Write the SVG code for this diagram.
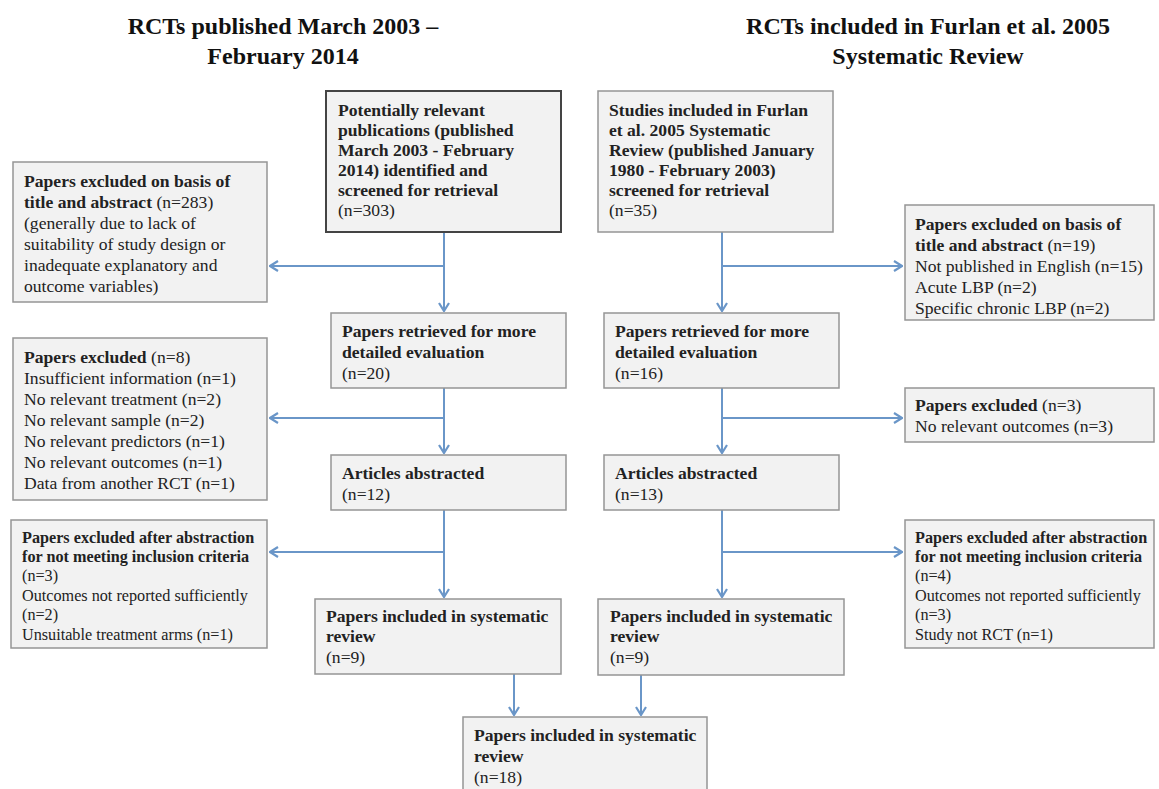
<svg xmlns="http://www.w3.org/2000/svg" width="1159" height="789" viewBox="0 0 1159 789">
<defs>
<marker id="arr" viewBox="0 0 10 12" refX="9" refY="6" markerWidth="10" markerHeight="12" markerUnits="userSpaceOnUse" orient="auto">
<path d="M1,1 L9,6 L1,11" fill="none" stroke="#6a96c8" stroke-width="2.2"/>
</marker>
<style>
.box{fill:#f2f2f2;stroke:#959595;stroke-width:1.5}
.dark{stroke:#444;stroke-width:2}
.t{font-family:"Liberation Serif","Times New Roman",serif;font-size:17.6px;fill:#222}
.s{font-size:16.2px}
.b{font-weight:bold}
.h{font-family:"Liberation Serif","Times New Roman",serif;font-size:24px;font-weight:bold;fill:#111;text-anchor:middle}
.c{fill:none;stroke:#6a96c8;stroke-width:2}
</style>
</defs>
<rect width="1159" height="789" fill="#fff"/>
<g id="titles">
<text class="h" x="283" y="34">RCTs published March 2003 –</text>
<text class="h" x="283" y="64">February 2014</text>
<text class="h" x="928" y="34">RCTs included in Furlan et al. 2005</text>
<text class="h" x="928" y="64">Systematic Review</text>
</g>
<g id="connectors">
<path class="c" d="M444,232 V311" marker-end="url(#arr)"/>
<path class="c" d="M444,266 H270" marker-end="url(#arr)"/>
<path class="c" d="M444,388 V453" marker-end="url(#arr)"/>
<path class="c" d="M444,418 H270" marker-end="url(#arr)"/>
<path class="c" d="M444,510 V597" marker-end="url(#arr)"/>
<path class="c" d="M444,552 H270" marker-end="url(#arr)"/>
<path class="c" d="M722,232 V311" marker-end="url(#arr)"/>
<path class="c" d="M722,266 H902" marker-end="url(#arr)"/>
<path class="c" d="M722,388 V453" marker-end="url(#arr)"/>
<path class="c" d="M722,418 H902" marker-end="url(#arr)"/>
<path class="c" d="M722,510 V597" marker-end="url(#arr)"/>
<path class="c" d="M722,552 H902" marker-end="url(#arr)"/>
<path class="c" d="M514,674 V715" marker-end="url(#arr)"/>
<path class="c" d="M641,675 V715" marker-end="url(#arr)"/>
</g>
<g id="n_left1">
<rect class="box dark" x="326" y="91" width="235" height="141"/>
<text class="t b" x="338" y="116">Potentially relevant</text>
<text class="t b" x="338" y="136">publications (published</text>
<text class="t b" x="338" y="156">March 2003 - February</text>
<text class="t b" x="338" y="176">2014) identified and</text>
<text class="t b" x="338" y="196">screened for retrieval</text>
<text class="t" x="338" y="216">(n=303)</text>
</g>
<g id="n_right1">
<rect class="box" x="598" y="91" width="235" height="141"/>
<text class="t b" x="609" y="116">Studies included in Furlan</text>
<text class="t b" x="609" y="136">et al. 2005 Systematic</text>
<text class="t b" x="609" y="156">Review (published January</text>
<text class="t b" x="609" y="176">1980 - February 2003)</text>
<text class="t b" x="609" y="196">screened for retrieval</text>
<text class="t" x="609" y="216">(n=35)</text>
</g>
<g id="n_exclL1">
<rect class="box" x="13" y="162" width="254" height="140"/>
<text class="t b" x="24" y="187">Papers excluded on basis of</text>
<text class="t" x="24" y="208"><tspan class="b">title and abstract</tspan> (n=283)</text>
<text class="t" x="24" y="229">(generally due to lack of</text>
<text class="t" x="24" y="250">suitability of study design or</text>
<text class="t" x="24" y="271">inadequate explanatory and</text>
<text class="t" x="24" y="292">outcome variables)</text>
</g>
<g id="n_exclR1">
<rect class="box" x="905" y="205" width="249" height="115"/>
<text class="t b" x="915" y="230">Papers excluded on basis of</text>
<text class="t" x="915" y="251"><tspan class="b">title and abstract</tspan> (n=19)</text>
<text class="t" x="915" y="272">Not published in English (n=15)</text>
<text class="t" x="915" y="293">Acute LBP (n=2)</text>
<text class="t" x="915" y="314">Specific chronic LBP (n=2)</text>
</g>
<g id="n_left2">
<rect class="box" x="331" y="313" width="235" height="75"/>
<text class="t b" x="342" y="337">Papers retrieved for more</text>
<text class="t b" x="342" y="358">detailed evaluation</text>
<text class="t" x="342" y="379">(n=20)</text>
</g>
<g id="n_right2">
<rect class="box" x="604" y="313" width="235" height="75"/>
<text class="t b" x="615" y="337">Papers retrieved for more</text>
<text class="t b" x="615" y="358">detailed evaluation</text>
<text class="t" x="615" y="379">(n=16)</text>
</g>
<g id="n_exclL2">
<rect class="box" x="13" y="338" width="254" height="162"/>
<text class="t" x="24" y="363"><tspan class="b">Papers excluded</tspan> (n=8)</text>
<text class="t" x="24" y="384">Insufficient information (n=1)</text>
<text class="t" x="24" y="405">No relevant treatment (n=2)</text>
<text class="t" x="24" y="426">No relevant sample (n=2)</text>
<text class="t" x="24" y="447">No relevant predictors (n=1)</text>
<text class="t" x="24" y="468">No relevant outcomes (n=1)</text>
<text class="t" x="24" y="489">Data from another RCT (n=1)</text>
</g>
<g id="n_exclR2">
<rect class="box" x="905" y="388" width="249" height="54"/>
<text class="t" x="915" y="411"><tspan class="b">Papers excluded</tspan> (n=3)</text>
<text class="t" x="915" y="432">No relevant outcomes (n=3)</text>
</g>
<g id="n_left3">
<rect class="box" x="331" y="455" width="235" height="55"/>
<text class="t b" x="342" y="479">Articles abstracted</text>
<text class="t" x="342" y="500">(n=12)</text>
</g>
<g id="n_right3">
<rect class="box" x="604" y="455" width="235" height="55"/>
<text class="t b" x="615" y="479">Articles abstracted</text>
<text class="t" x="615" y="500">(n=13)</text>
</g>
<g id="n_exclL3">
<rect class="box" x="11" y="520" width="256" height="128"/>
<text class="t s b" x="22" y="543">Papers excluded after abstraction</text>
<text class="t s b" x="22" y="562">for not meeting inclusion criteria</text>
<text class="t s" x="22" y="581">(n=3)</text>
<text class="t s" x="22" y="601">Outcomes not reported sufficiently</text>
<text class="t s" x="22" y="620">(n=2)</text>
<text class="t s" x="22" y="640">Unsuitable treatment arms (n=1)</text>
</g>
<g id="n_exclR3">
<rect class="box" x="905" y="520" width="249" height="128"/>
<text class="t s b" x="915" y="543">Papers excluded after abstraction</text>
<text class="t s b" x="915" y="562">for not meeting inclusion criteria</text>
<text class="t s" x="915" y="581">(n=4)</text>
<text class="t s" x="915" y="601">Outcomes not reported sufficiently</text>
<text class="t s" x="915" y="620">(n=3)</text>
<text class="t s" x="915" y="640">Study not RCT (n=1)</text>
</g>
<g id="n_left4">
<rect class="box" x="315" y="599" width="246" height="75"/>
<text class="t b" x="326" y="622">Papers included in systematic</text>
<text class="t b" x="326" y="642">review</text>
<text class="t" x="326" y="663">(n=9)</text>
</g>
<g id="n_right4">
<rect class="box" x="598" y="599" width="246" height="76"/>
<text class="t b" x="610" y="622">Papers included in systematic</text>
<text class="t b" x="610" y="642">review</text>
<text class="t" x="610" y="663">(n=9)</text>
</g>
<g id="n_final">
<rect class="box" x="463" y="717" width="244" height="80"/>
<text class="t b" x="474" y="741">Papers included in systematic</text>
<text class="t b" x="474" y="762">review</text>
<text class="t" x="474" y="783">(n=18)</text>
</g>
</svg>
